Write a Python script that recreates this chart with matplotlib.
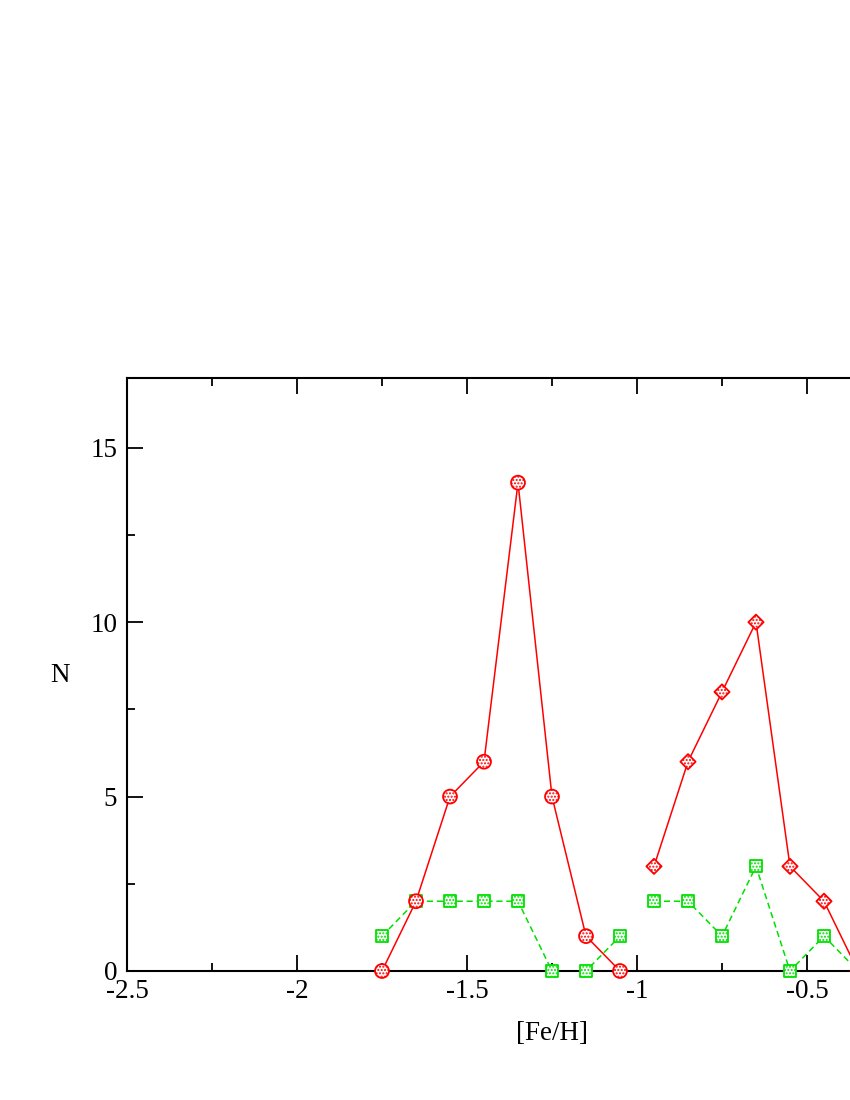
import matplotlib
matplotlib.use("Agg")
import matplotlib.pyplot as plt
from matplotlib.ticker import MultipleLocator

plt.rcParams['font.family'] = ['Liberation Serif', 'DejaVu Serif']
plt.rcParams['axes.unicode_minus'] = False
plt.rcParams['hatch.linewidth'] = 1.0

# Data
feh_a = [-1.75, -1.65, -1.55, -1.45, -1.35, -1.25, -1.15, -1.05]
n_circ = [0, 2, 5, 6, 14, 5, 1, 0]
n_sq_a = [1, 2, 2, 2, 2, 0, 0, 1]

feh_b = [-0.95, -0.85, -0.75, -0.65, -0.55, -0.45, -0.35]
n_diam = [3, 6, 8, 10, 3, 2, 0]
n_sq_b = [2, 2, 1, 3, 0, 1, 0]

xticks = [-2.5, -2, -1.5, -1, -0.5, 0]
xticklabels = ['-2.5', '-2', '-1.5', '-1', '-0.5', '0']
yticks = [0, 5, 10, 15]

RED = '#ff0000'
GREEN = '#00e000'

fig = plt.figure(figsize=(8.5, 11), dpi=100)
ax = fig.add_axes([127/850, (1100-971)/1100, 850/850, (971-378)/1100])
ax.set_xlim(-2.5, 0.0)
ax.set_ylim(0, 17)

def series(x, y, color, ls, marker, ms):
    ax.plot(x, y, color=color, ls=ls, lw=1.1, zorder=2,
            dashes=(4, 2.5) if ls == '--' else (None, None))
    ax.scatter(x, y, s=ms, marker=marker, facecolor='white', edgecolor=color,
               hatch='.....', linewidth=1.3, zorder=3, clip_on=False)

series(feh_a, n_sq_a, GREEN, '--', 's', 75)
series(feh_b, n_sq_b, GREEN, '--', 's', 75)
series(feh_a, n_circ, RED, '-', 'o', 100)
series(feh_b, n_diam, RED, '-', 'D', 60)

ax.set_xticks(xticks)
ax.set_xticklabels(xticklabels)
ax.set_yticks(yticks)
ax.xaxis.set_minor_locator(MultipleLocator(0.25))
ax.yaxis.set_minor_locator(MultipleLocator(2.5))
ax.tick_params(which='both', direction='in', top=True, right=True,
               width=1.3, labelsize=19.5, colors='black')
ax.tick_params(axis='x', which='major', length=11.5, pad=6)
ax.tick_params(axis='y', which='major', length=11.5, pad=7)
ax.tick_params(which='minor', length=6)
for s in ax.spines.values():
    s.set_linewidth(1.5)

ax.set_xlabel('[Fe/H]', fontsize=19.5, labelpad=12)
ax.set_ylabel('N', fontsize=19.5, rotation=0, va='center', ha='center')
ax.yaxis.set_label_coords(-67/850, (971-676)/593)

fig.savefig('out.png', dpi=100)
